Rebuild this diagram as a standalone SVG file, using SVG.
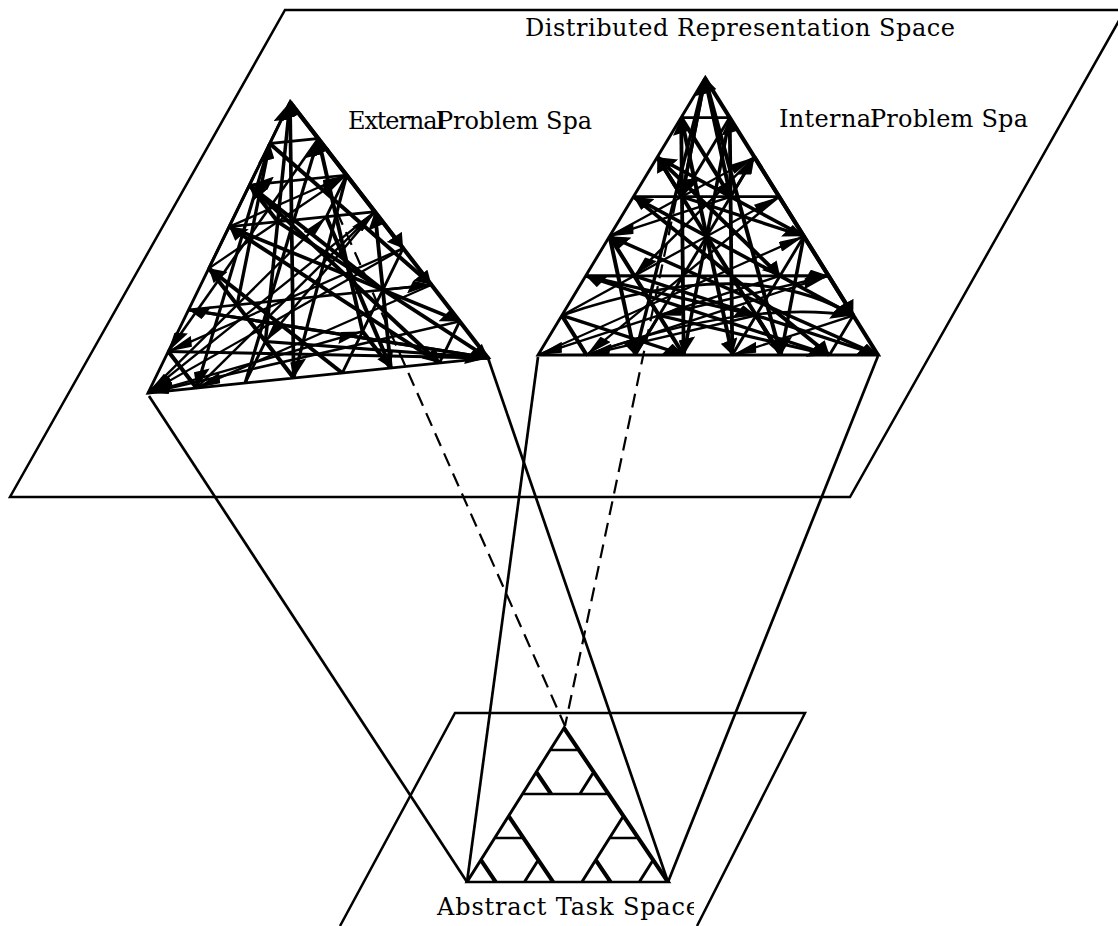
<svg xmlns="http://www.w3.org/2000/svg" width="1118" height="926" viewBox="0 0 1118 926">
<style>
.plane{fill:none;stroke:#000;stroke-width:2.5}
.lbl{font-family:"DejaVu Serif","Liberation Serif",serif;font-size:24px;fill:#000}
.hg{fill:none;stroke:#000;stroke-width:0.07;stroke-linejoin:miter}
.ag line,.ag path{fill:none;stroke:#000;stroke-width:0.07;marker-end:url(#ah)}
.ahg{fill:none;stroke:#000;stroke-width:0.12}
.link{fill:none;stroke:#000;stroke-width:2.7}
.dash{fill:none;stroke:#000;stroke-width:2.2;stroke-dasharray:14 8}
</style>
<defs>
<marker id="ah" viewBox="0 0 10 7" refX="10" refY="3.5" markerWidth="6.5" markerHeight="4.4" orient="auto">
<path d="M0,0 L10,3.5 L0,7 z" fill="#000"/>
</marker>
<clipPath id="clipAbs"><rect x="0" y="880" width="694" height="46"/></clipPath>
</defs>
<rect width="1118" height="926" fill="#fff"/>

<g id="distributed-space">
<polygon class="plane" points="285,10 1125,10 850,497 10,497"/>
<text class="lbl" x="525" y="36" textLength="430">Distributed Representation Space</text>
</g>

<g id="abstract-space">
<polyline class="plane" points="340,926 455,713 805,713 697,926"/>
<g transform="matrix(28.714 0 -13.857 22 564 728)">
<path class="ahg" d="M0,0 L0,7 L7,7 Z M0,1 L1,1 M0,3 L3,3 M0,5 L1,5 M4,5 L5,5 M0,2 L1,3 M0,4 L3,7 M0,6 L1,7 M4,6 L5,7 M2,2 L2,3 M4,4 L4,7 M2,6 L2,7 M6,6 L6,7"/>
</g>
<text class="lbl" x="437" y="915" textLength="263" clip-path="url(#clipAbs)">Abstract Task Space</text>
</g>

<g id="external-space">
<g transform="matrix(48.571 -5 -20.286 41.571 290 102)">
<path class="hg" d="M0,0 L0,7 L7,7 Z M0,1 L1,1 M0,3 L3,3 M0,5 L1,5 M4,5 L5,5 M0,2 L1,3 M0,4 L3,7 M0,6 L1,7 M4,6 L5,7 M2,2 L2,3 M4,4 L4,7 M2,6 L2,7 M6,6 L6,7"/>
<g class="ag">
<line x1="0" y1="4" x2="0" y2="0"/>
<line x1="3" y1="7" x2="0" y2="0"/>
<line x1="2" y1="6" x2="0" y2="0"/>
<line x1="1" y1="5" x2="0" y2="1"/>
<line x1="2" y1="7" x2="1" y2="1"/>
<line x1="2" y1="2" x2="0" y2="2"/>
<line x1="0" y1="3" x2="2" y2="2"/>
<line x1="0" y1="0" x2="4" y2="4"/>
<line x1="0" y1="1" x2="5" y2="5"/>
<line x1="1" y1="1" x2="0" y2="6"/>
<line x1="0" y1="2" x2="6" y2="7"/>
<line x1="3" y1="3" x2="0" y2="7"/>
<line x1="1" y1="3" x2="7" y2="7"/>
<line x1="4" y1="4" x2="0" y2="7"/>
<line x1="5" y1="5" x2="1" y2="7"/>
<line x1="6" y1="6" x2="0" y2="7"/>
<line x1="7" y1="7" x2="0" y2="5"/>
<line x1="4" y1="7" x2="0" y2="4"/>
<line x1="0" y1="5" x2="7" y2="7"/>
<line x1="0" y1="6" x2="7" y2="7"/>
<line x1="0" y1="7" x2="4" y2="6"/>
<line x1="1" y1="7" x2="3" y2="3"/>
<line x1="2" y1="2" x2="3" y2="7"/>
<line x1="2" y1="3" x2="5" y2="7"/>
<line x1="0" y1="4" x2="2" y2="2"/>
<line x1="4" y1="5" x2="0" y2="2"/>
<line x1="4" y1="6" x2="1" y2="1"/>
<line x1="6" y1="7" x2="0" y2="3"/>
<line x1="0" y1="3" x2="6" y2="6"/>
<line x1="1" y1="5" x2="5" y2="5"/>
<line x1="2" y1="6" x2="7" y2="7"/>
<line x1="0" y1="1" x2="1" y2="7"/>
<line x1="0" y1="7" x2="2" y2="3"/>
<line x1="4" y1="4" x2="0" y2="6"/>
<line x1="3" y1="3" x2="2" y2="6"/>
<line x1="5" y1="7" x2="3" y2="3"/>
</g>
</g>
<text class="lbl" x="348" y="129" textLength="96">External</text>
<text class="lbl" x="437" y="129" textLength="155">Problem Spa</text>
</g>

<g id="internal-space">
<g transform="matrix(48.571 0 -23.857 39.571 705 78)">
<path class="hg" d="M0,0 L0,7 L7,7 Z M0,1 L1,1 M0,3 L3,3 M0,5 L1,5 M4,5 L5,5 M0,2 L1,3 M0,4 L3,7 M0,6 L1,7 M4,6 L5,7 M2,2 L2,3 M4,4 L4,7 M2,6 L2,7 M6,6 L6,7"/>
<g class="ag">
<line x1="0" y1="0" x2="2" y2="7"/>
<line x1="0" y1="0" x2="5" y2="7"/>
<line x1="0" y1="1" x2="4" y2="7"/>
<line x1="1" y1="1" x2="3" y2="7"/>
<line x1="3" y1="7" x2="0" y2="1"/>
<line x1="4" y1="7" x2="1" y2="1"/>
<line x1="1" y1="3" x2="0" y2="0"/>
<line x1="2" y1="3" x2="0" y2="0"/>
<line x1="0" y1="4" x2="2" y2="2"/>
<line x1="4" y1="4" x2="0" y2="2"/>
<line x1="2" y1="2" x2="1" y2="5"/>
<line x1="0" y1="2" x2="4" y2="5"/>
<line x1="0" y1="6" x2="3" y2="3"/>
<line x1="6" y1="6" x2="0" y2="3"/>
<line x1="0" y1="3" x2="6" y2="7"/>
<line x1="3" y1="3" x2="1" y2="7"/>
<line x1="0" y1="7" x2="4" y2="4"/>
<line x1="7" y1="7" x2="0" y2="4"/>
<line x1="1" y1="5" x2="7" y2="7"/>
<line x1="4" y1="5" x2="0" y2="7"/>
<line x1="2" y1="6" x2="6" y2="7"/>
<line x1="4" y1="6" x2="1" y2="7"/>
<line x1="1" y1="7" x2="5" y2="5"/>
<line x1="6" y1="7" x2="0" y2="5"/>
<line x1="0" y1="4" x2="2" y2="7"/>
<line x1="4" y1="4" x2="5" y2="7"/>
<line x1="0" y1="6" x2="3" y2="7"/>
<line x1="6" y1="6" x2="4" y2="7"/>
<line x1="0" y1="5" x2="4" y2="6"/>
<line x1="5" y1="5" x2="2" y2="6"/>
<line x1="2" y1="2" x2="6" y2="6"/>
<line x1="0" y1="1" x2="2" y2="3"/>
<line x1="1" y1="1" x2="1" y2="3"/>
<line x1="1" y1="3" x2="4" y2="4"/>
<line x1="2" y1="3" x2="0" y2="4"/>
<line x1="2" y1="7" x2="2" y2="2"/>
<line x1="5" y1="7" x2="0" y2="2"/>
<line x1="0" y1="0" x2="1" y2="3"/>
<line x1="0" y1="5" x2="5" y2="5"/>
<path d="M0,6 Q3,4.4 6,6"/>
<path d="M1,7 Q3.5,5.6 6,6"/>
</g>
</g>
<text class="lbl" x="779" y="127" textLength="100">Internal</text>
<text class="lbl" x="870" y="127" textLength="158">Problem Spa</text>
</g>

<g id="connectors">
<line class="link" x1="149" y1="396" x2="467" y2="882"/>
<line class="link" x1="488" y1="358" x2="668" y2="882"/>
<line class="link" x1="538" y1="357" x2="467" y2="882"/>
<line class="link" x1="878" y1="356" x2="668" y2="882"/>
<line class="dash" x1="337" y1="212" x2="565" y2="726"/>
<line class="dash" x1="676" y1="200" x2="565" y2="726"/>
</g>
</svg>
